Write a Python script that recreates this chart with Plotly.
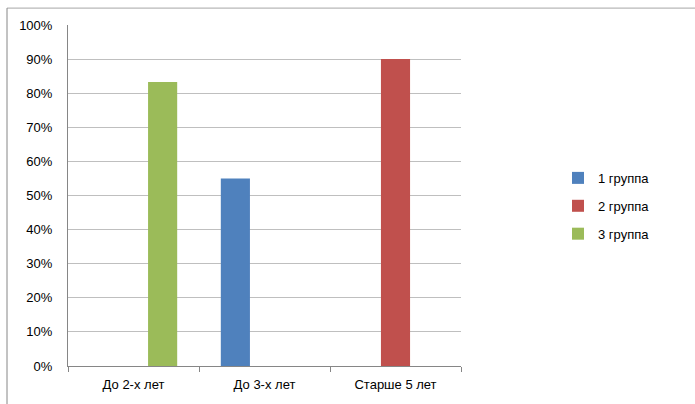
import plotly.graph_objects as go

categories = ["До 2-х лет", "До 3-х лет", "Старше 5 лет"]
series_names = ["1 группа", "2 группа", "3 группа"]
group1 = [None, 0.55, None]
group2 = [None, None, 0.90]
group3 = [0.833, None, None]
colors = ["#4F81BD", "#C0504D", "#9BBB59"]
y_ticks = [0, 0.1, 0.2, 0.3, 0.4, 0.5, 0.6, 0.7, 0.8, 0.9, 1.0]

W, H = 695, 404
L, R, T, B = 68, 461, 25, 368

fig = go.Figure()
for i, (name, vals, col) in enumerate(zip(series_names, [group1, group2, group3], colors)):
    fig.add_trace(go.Bar(x=categories, y=vals, name=name, legendgroup=f"g{i}",
                         marker=dict(color=col, line=dict(width=0))))

font = dict(family="Liberation Sans, Arial, sans-serif", size=13, color="#000000")

def px_x(x):
    return (x - L) / (R - L)

def px_y(y):
    return (B - y) / (B - T)

fig.update_layout(
    width=W, height=H,
    margin=dict(l=L, r=W - R, t=T, b=H - B, pad=0),
    paper_bgcolor="white", plot_bgcolor="white",
    barmode="group", bargap=0.333, bargroupgap=0,
    font=font,
    showlegend=True,
    legend=dict(x=px_x(558), y=px_y(207), xanchor="left", yanchor="middle",
                font=dict(family="Liberation Sans, Arial, sans-serif", size=13),
                itemwidth=30, tracegroupgap=8, traceorder="grouped",
                bgcolor="rgba(0,0,0,0)"),
    xaxis=dict(type="category", categoryorder="array", categoryarray=categories,
               showgrid=False, showline=True, linecolor="#868686", linewidth=1,
               ticks="outside", tickson="boundaries", ticklen=5, tickcolor="#868686",
               ticklabelstandoff=6,
               tickfont=font, fixedrange=True),
    yaxis=dict(range=[0, 1.0], tickvals=y_ticks, tickformat=".0%",
               showgrid=True, gridcolor="#BFBFBF", gridwidth=1,
               showline=True, linecolor="#868686", linewidth=1,
               ticks="", ticklabelstandoff=12,
               tickfont=font, zeroline=False, fixedrange=True),
    shapes=[
        dict(type="line", xref="paper", yref="paper",
             x0=px_x(7), x1=px_x(700), y0=px_y(8), y1=px_y(8),
             line=dict(color="#A6A6A6", width=1)),
        dict(type="line", xref="paper", yref="paper",
             x0=px_x(7), x1=px_x(7), y0=px_y(8), y1=px_y(410),
             line=dict(color="#868686", width=1)),
    ],
)

fig.write_html("out.html")
